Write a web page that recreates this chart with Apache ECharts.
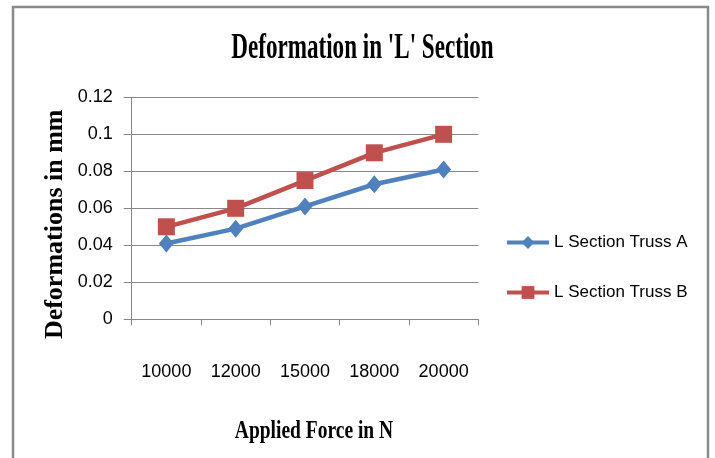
<!DOCTYPE html>
<html><head><meta charset="utf-8">
<script src="https://cdn.jsdelivr.net/npm/echarts@6/dist/echarts.min.js"></script>
<style>html,body{margin:0;padding:0;background:#fff}#c{width:715px;height:458px}</style>
</head><body><div id="c"></div>
<script>
const categories = ['10000','12000','15000','18000','20000'];
const trussA = [0.041, 0.049, 0.061, 0.073, 0.081];
const trussB = [0.050, 0.060, 0.075, 0.090, 0.100];
const seriesNames = ['L Section Truss A','L Section Truss B'];
const titleText = "Deformation in 'L' Section";
const xName = 'Applied Force in N';
const yName = 'Deformations in mm';
const yTicks = {min:0, max:0.12, interval:0.02};

const sans = '"Liberation Sans","Noto Sans",sans-serif';
const serif = '"Liberation Serif","DejaVu Serif",serif';
const chart = echarts.init(document.getElementById('c'), null, {renderer:'canvas'});
chart.setOption({
  backgroundColor:'#fff',
  animation:false,
  graphic:[
    {type:'rect', shape:{x:13, y:7, width:695, height:470},
      style:{fill:'none', stroke:'#8a8a8a', lineWidth:2.5}, silent:true},
    {type:'text', x:362.5, y:49, scaleX:0.66,
      style:{text:titleText, x:0, y:0, align:'center', verticalAlign:'middle',
        textAlign:'center', textVerticalAlign:'middle',
        fontFamily:serif, fontWeight:'bold', fontSize:35, fill:'#000'}},
    {type:'text', x:314, y:432, scaleX:0.78,
      style:{text:xName, x:0, y:0, align:'center', verticalAlign:'middle',
        textAlign:'center', textVerticalAlign:'middle',
        fontFamily:serif, fontWeight:'bold', fontSize:25, fill:'#000'}}
  ],
  grid:{left:131.7, top:97.3, width:346.6, height:222, containLabel:false},
  legend:{orient:'vertical', left:500, top:229, itemGap:33, itemWidth:42, itemHeight:16,
    lineStyle:{width:4},
    textStyle:{fontFamily:sans, fontSize:17, color:'#000'},
    data:seriesNames},
  xAxis:{type:'category', data:categories, boundaryGap:true,
    axisLine:{lineStyle:{color:'#888', width:1}},
    axisTick:{show:true, length:6, inside:false, lineStyle:{color:'#888'}},
    axisLabel:{fontFamily:sans, fontSize:18, color:'#000', margin:44}},
  yAxis:{type:'value', min:yTicks.min, max:yTicks.max, interval:yTicks.interval,
    name:yName, nameLocation:'middle', nameGap:63, nameRotate:90,
    nameTextStyle:{fontFamily:serif, fontWeight:'bold', fontSize:26, color:'#000',
      padding:[0,32,0,0]},
    axisLine:{show:true, lineStyle:{color:'#888', width:1}},
    axisTick:{show:true, length:8, lineStyle:{color:'#888'}},
    splitLine:{lineStyle:{color:'#888', width:1}},
    axisLabel:{fontFamily:sans, fontSize:18, color:'#000', margin:19,
      formatter:v=>String(+v.toFixed(2))}},
  series:[
    {name:seriesNames[0], type:'line', data:trussA, symbol:'diamond', symbolSize:[15,18],
      lineStyle:{width:4.5, color:'#4F81BD'}, itemStyle:{color:'#4F81BD'}},
    {name:seriesNames[1], type:'line', data:trussB, symbol:'rect', symbolSize:17,
      lineStyle:{width:4.5, color:'#C0504D'}, itemStyle:{color:'#C0504D'}}
  ]
});
</script></body></html>
